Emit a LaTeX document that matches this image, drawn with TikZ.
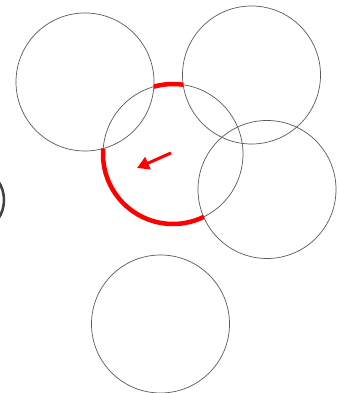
\documentclass[tikz,border=0pt]{standalone}
\usetikzlibrary{arrows.meta}
\begin{document}
\begin{tikzpicture}[x=1pt, y=1pt]
    \tikzset{
        ring/.style={draw=black!65, line width=0.7pt},
        exposed/.style={draw=red, line width=4.5pt},
    }
    \useasboundingbox (0,0) rectangle (339,393);

    % Circle centres
    \coordinate (cA) at (85,311);
    \coordinate (cB) at (251.5,318);
    \coordinate (cC) at (173,239);
    \coordinate (cD) at (267,203.5);
    \coordinate (cE) at (160.5,69);

    % Circles
    \draw[ring] (cA) circle (69);
    \draw[ring] (cB) circle (69);
    \draw[ring] (cC) circle (70);
    \draw[ring] (cD) circle (69);
    \draw[ring] (cE) circle (69);

    % Partial circle at left edge
    \draw[draw=black!75, line width=2.5pt] (-30,193) ++(-35:34) arc (-35:35:34);

    % Exposed arcs of the middle circle
    \draw[exposed] (cC) ++(81.6:70) arc (81.6:105.9:70);
    \draw[exposed] (cC) ++(175.5:70) arc (175.5:296:70);

    % Arrow
    \coordinate (tail) at (171,240);
    \coordinate (tip) at (137,225);
    \draw[red, line width=3pt, -{Triangle[length=12pt, width=13pt]}] (tail) -- (tip);
\end{tikzpicture}
\end{document}
